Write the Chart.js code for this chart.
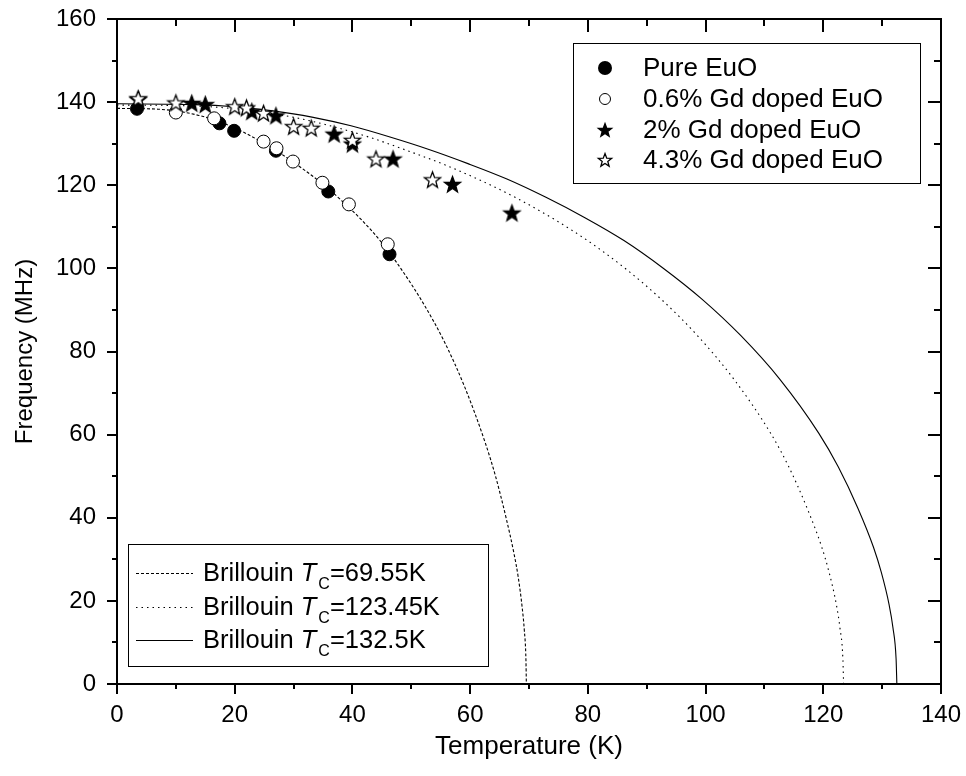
<!DOCTYPE html>
<html><head><meta charset="utf-8">
<script src="https://cdn.jsdelivr.net/npm/chart.js@4"></script>
<style>html,body{margin:0;padding:0;background:#fff}#wrap{width:966px;height:776px;position:relative}canvas{display:block}</style>
</head><body><div id="wrap"><canvas id="c" width="966" height="776"></canvas></div>
<script>
// ---- data ----
const pureX=[3.4,17.4,19.9,27.0,35.9,46.3];
const pureY=[138.4,134.9,133.1,128.3,118.5,103.4];
const gd06X=[10.0,16.5,24.9,27.1,29.9,34.9,39.4,46.0];
const gd06Y=[137.5,136.1,130.5,128.9,125.7,120.6,115.4,105.8];
const gd2X=[3.6,12.7,15.0,22.9,27.0,36.9,40.0,46.9,57.0,67.1];
const gd2Y=[140.6,139.7,139.4,137.7,136.7,132.3,129.9,126.3,120.2,113.3];
const gd43X=[3.6,10.0,20.0,22.0,24.9,30.0,33.0,40.0,44.0,53.6];
const gd43Y=[140.8,139.8,138.9,138.6,137.3,134.1,133.7,130.8,126.3,121.3];

// Brillouin curves, points
const b1X=[0,6.96,10.43,13.91,17.39,20.87,24.34,27.82,31.30,34.78,38.25,41.73,45.21,48.69,52.16,55.64,59.12,62.60,64.33,66.07,67.46,68.16,68.85,69.20,69.48,69.55];
const b1Y=[138.5,138.3,137.8,136.8,135.3,133.2,130.6,127.6,124.2,120.5,116.2,111.4,105.8,99.0,91.3,82.3,71.3,57.9,49.9,40.2,31.3,25.8,18.3,13.0,5.8,0];
const b2X=[0,12.35,18.52,24.69,30.86,37.04,43.21,49.38,55.55,61.73,67.90,74.07,80.24,86.42,92.59,98.76,104.93,111.11,114.19,117.28,119.75,120.98,122.22,122.83,123.33,123.45];
const b2Y=[139.3,139.1,138.6,137.6,136.1,134.0,131.4,128.3,125.0,121.2,116.9,112.0,106.4,99.9,92.4,83.6,73.1,60.2,52.1,42.2,32.9,26.9,19.1,13.5,6.0,0];
const b3X=[0,13.25,19.88,26.5,33.13,39.75,46.38,53.0,59.63,66.25,72.88,79.5,86.13,92.75,99.38,106.0,112.63,119.25,122.56,125.88,128.53,129.85,131.18,131.84,132.37,132.5];
const b3Y=[139.6,139.4,138.9,137.9,136.4,134.3,131.6,128.6,125.2,121.5,117.1,112.2,106.7,100.1,92.6,83.8,73.3,60.3,52.2,42.3,32.9,26.9,19.1,13.5,6.0,0];

const seriesLabels=['Pure EuO','0.6% Gd doped EuO','2% Gd doped EuO','4.3% Gd doped EuO'];
const curveTc=['69.55K','123.45K','132.5K'];
const xTicks=[0,20,40,60,80,100,120,140];
const yTicks=[0,20,40,60,80,100,120,140,160];
const xTitle='Temperature (K)';
const yTitle='Frequency (MHz)';

// ---- helpers ----
const FONT='"Liberation Sans", Arial, Helvetica, sans-serif';
function pts(xs,ys){return xs.map((x,i)=>({x:x,y:ys[i]}));}
function makeStar(R,fill){
  const s=Math.ceil(R*2+4);const c=document.createElement('canvas');c.width=s;c.height=s;
  const g=c.getContext('2d');const cx=s/2,cy=s/2+0.5;const r=R*0.42;
  g.beginPath();
  for(let i=0;i<10;i++){const a=-Math.PI/2+i*Math.PI/5;const rr=i%2?r:R;g.lineTo(cx+rr*Math.cos(a),cy+rr*Math.sin(a));}
  g.closePath();g.fillStyle=fill;g.fill();g.lineWidth=1.3;g.lineJoin='miter';g.strokeStyle='#000';g.stroke();return c;
}
const starF=makeStar(8.5,'#000'), starO=makeStar(8.5,'#fff');
const starFs=makeStar(7,'#000'), starOs=makeStar(7,'#fff');

const dashes=[[3,2],[1.5,4],[]];

const framePlugin={
  id:'frame',
  afterDraw(chart){
    const ctx=chart.ctx, a=chart.chartArea, xs=chart.scales.x, ys=chart.scales.y;
    ctx.save();
    ctx.strokeStyle='#000';ctx.lineWidth=2;
    ctx.strokeRect(a.left,a.top,a.right-a.left,a.bottom-a.top);
    const OMJ=10, OMN=5, IMJ=13, IMN=7;
    ctx.beginPath();
    for(let v=0;v<=140;v+=10){
      const px=Math.round(xs.getPixelForValue(v));const maj=(v%20===0);
      ctx.moveTo(px,a.bottom);ctx.lineTo(px,a.bottom+(maj?OMJ:OMN));
      ctx.moveTo(px,a.top);ctx.lineTo(px,a.top+(maj?IMJ:IMN));
    }
    for(let v=0;v<=160;v+=10){
      const py=Math.round(ys.getPixelForValue(v));const maj=(v%20===0);
      ctx.moveTo(a.left,py);ctx.lineTo(a.left-(maj?OMJ:OMN),py);
      ctx.moveTo(a.right,py);ctx.lineTo(a.right-(maj?IMJ:IMN),py);
    }
    ctx.stroke();

    // legend 1 (markers)
    ctx.lineWidth=1;
    ctx.strokeRect(573.5,43.5,347,140);
    const rows=[68,99,130,160];
    ctx.textBaseline='middle';ctx.textAlign='left';
    rows.forEach((y,i)=>{
      const mx=605;
      if(i===0){ctx.beginPath();ctx.arc(mx,y,7,0,Math.PI*2);ctx.fillStyle='#000';ctx.fill();}
      else if(i===1){ctx.beginPath();ctx.arc(mx,y,5.5,0,Math.PI*2);ctx.fillStyle='#fff';ctx.fill();ctx.strokeStyle='#000';ctx.stroke();}
      else {const im=i===2?starFs:starOs;ctx.drawImage(im,mx-im.width/2,y-im.height/2);}
      ctx.fillStyle='#000';
      ctx.font='26px '+FONT;
      ctx.fillText(seriesLabels[i],643,y+1);
    });

    // legend 2 (curves)
    ctx.strokeRect(128.5,544.5,360,122);
    const rows2=[573,607,640];
    rows2.forEach((y,i)=>{
      ctx.save();ctx.lineWidth=1;ctx.setLineDash(dashes[i]);ctx.beginPath();ctx.moveTo(136,y+0.5);ctx.lineTo(193,y+0.5);ctx.stroke();ctx.restore();
      let x=203;
      ctx.font='25.5px '+FONT;ctx.fillText('Brillouin ',x,y+1);x+=ctx.measureText('Brillouin ').width;
      ctx.font='italic 25.5px '+FONT;ctx.fillText('T',x,y+1);x+=ctx.measureText('T').width+2;
      ctx.font='16px '+FONT;ctx.fillText('C',x,y+12);x+=ctx.measureText('C').width;
      ctx.font='25.5px '+FONT;ctx.fillText('='+curveTc[i],x,y+1);
    });
    ctx.restore();
  }
};

const lineDs=(xs,ys,dash,ord)=>({type:'scatter',data:pts(xs,ys),showLine:true,borderColor:'#000',borderWidth:1.1,borderDash:dash,pointRadius:0,fill:false,cubicInterpolationMode:'monotone',order:ord});
const zeroPad=s=>{s.paddingTop=0;s.paddingBottom=0;s.paddingLeft=0;s.paddingRight=0;};

new Chart(document.getElementById('c'),{
  type:'scatter',
  data:{datasets:[
    {label:seriesLabels[3],data:pts(gd43X,gd43Y),pointStyle:starO,order:0},
    {label:seriesLabels[2],data:pts(gd2X,gd2Y),pointStyle:starF,order:1},
    {label:seriesLabels[1],data:pts(gd06X,gd06Y),pointStyle:'circle',pointRadius:6.5,backgroundColor:'#fff',borderColor:'#000',borderWidth:1,order:2},
    {label:seriesLabels[0],data:pts(pureX,pureY),pointStyle:'circle',pointRadius:6.5,backgroundColor:'#000',borderColor:'#000',borderWidth:1,order:3},
    lineDs(b1X,b1Y,dashes[0],4),
    lineDs(b2X,b2Y,dashes[1],5),
    lineDs(b3X,b3Y,dashes[2],6)
  ]},
  options:{
    responsive:false,animation:false,devicePixelRatio:1,events:[],
    layout:{padding:{top:19,right:25,left:0,bottom:0}},
    plugins:{legend:{display:false},tooltip:{enabled:false}},
    scales:{
      x:{type:'linear',min:0,max:140,
        afterBuildTicks:s=>{s.ticks=xTicks.map(v=>({value:v}));},
        afterFit:s=>{s.height=92;zeroPad(s);},
        grid:{display:false},border:{display:false},
        ticks:{color:'#000',font:{family:FONT,size:24},padding:9,maxRotation:0},
        title:{display:true,text:xTitle,color:'#000',font:{family:FONT,size:26},padding:{top:0,bottom:14}}},
      y:{type:'linear',min:0,max:160,
        afterBuildTicks:s=>{s.ticks=yTicks.map(v=>({value:v}));},
        afterFit:s=>{s.width=117;zeroPad(s);},
        grid:{display:false},border:{display:false},
        ticks:{color:'#000',font:{family:FONT,size:24},padding:13},
        title:{display:true,text:yTitle,color:'#000',font:{family:FONT,size:24},padding:{top:11,bottom:0}}}
    }
  },
  plugins:[framePlugin]
});
</script></body></html>
